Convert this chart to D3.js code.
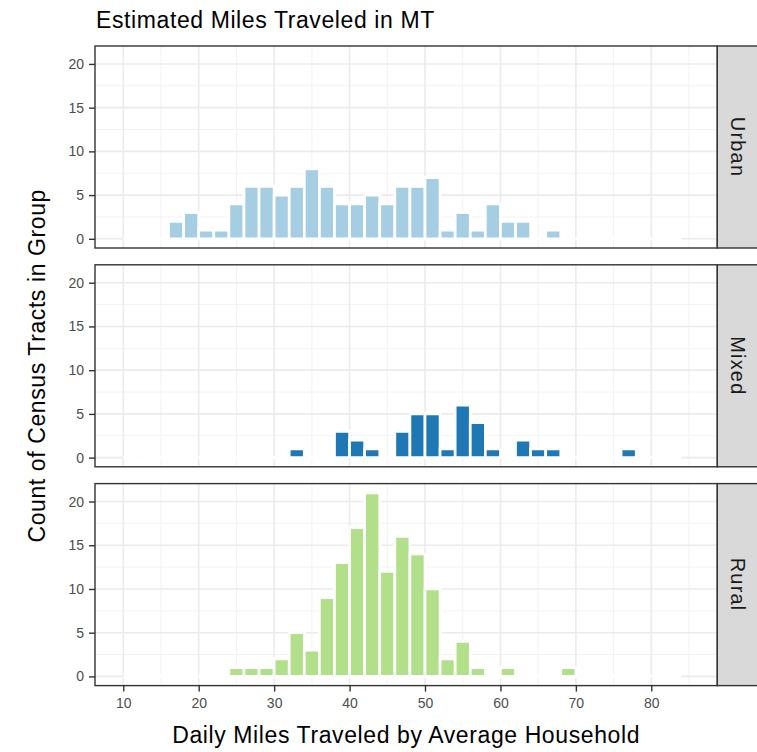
<!DOCTYPE html>
<html>
<head>
<meta charset="utf-8">
<script src="https://cdn.jsdelivr.net/npm/d3@7"></script>
<style>
  body { margin: 0; background: #ffffff; }
  svg { display: block; }
  text { font-family: "Liberation Sans", Arial, Helvetica, sans-serif; }
</style>
</head>
<body>
<svg id="chart" width="757" height="752"></svg>
<script>
// Histogram bins: centre of each 2-mile bin
const binCenters = [11, 13, 15, 17, 19, 21, 23, 25, 27, 29, 31, 33, 35, 37, 39, 41, 43, 45, 47,
                    49, 51, 53, 55, 57, 59, 61, 63, 65, 67, 69, 71, 73, 75, 77, 79, 81, 83];
const binWidth = 2;

// Count of census tracts per bin, by group
const urbanCounts = [0, 0, 0, 2, 3, 1, 1, 4, 6, 6, 5, 6, 8, 6, 4, 4, 5, 4, 6,
                     6, 7, 1, 3, 1, 4, 2, 2, 0, 1, 0, 0, 0, 0, 0, 0, 0, 0];
const mixedCounts = [0, 0, 0, 0, 0, 0, 0, 0, 0, 0, 0, 1, 0, 0, 3, 2, 1, 0, 3,
                     5, 5, 1, 6, 4, 1, 0, 2, 1, 1, 0, 0, 0, 0, 1, 0, 0, 0];
const ruralCounts = [0, 0, 0, 0, 0, 0, 0, 1, 1, 1, 2, 5, 3, 9, 13, 17, 21, 12, 16,
                     14, 10, 2, 4, 1, 0, 1, 0, 0, 0, 1, 0, 0, 0, 0, 0, 0, 0];

const groupNames = ["Urban", "Mixed", "Rural"];
const groupCounts = [urbanCounts, mixedCounts, ruralCounts];
const groupColors = ["#a6cee3", "#1f78b4", "#b2df8a"];

const xTicks = [10, 20, 30, 40, 50, 60, 70, 80];
const xMinor = [15, 25, 35, 45, 55, 65, 75, 85];
const yTicks = [0, 5, 10, 15, 20];
const yMinor = [2.5, 7.5, 12.5, 17.5];

const titleText = "Estimated Miles Traveled in MT";
const xTitle = "Daily Miles Traveled by Average Household";
const yTitle = "Count of Census Tracts in Group";

// ---- layout ----
const svg = d3.select("#chart");
const panelLeft = 95, panelRight = 717.3;
const panelTop = 46, panelH = 202, panelGap = 16.8;
const stripW = 40.5;

// continuous scales with 5% expansion, as in ggplot
function expand(lo, hi, f = 0.05) { const d = (hi - lo) * f; return [lo - d, hi + d]; }
const x = d3.scaleLinear().domain(expand(10, 85)).range([panelLeft, panelRight]);
const countMax = d3.max(groupCounts.flat());

const gridMajor = "#ebebeb", gridMinor = "#f2f2f2", dark = "#333333", tickText = "#4d4d4d";

groupNames.forEach((name, i) => {
  const top = panelTop + i * (panelH + panelGap);
  const bottom = top + panelH;
  const y = d3.scaleLinear().domain(expand(0, countMax)).range([bottom, top]);
  const g = svg.append("g");

  g.append("rect").attr("x", panelLeft).attr("y", top)
    .attr("width", panelRight - panelLeft).attr("height", panelH).attr("fill", "#fff");

  // minor grid
  g.selectAll(".vminor").data(xMinor.filter(v => x(v) < panelRight)).join("line")
    .attr("x1", d => x(d)).attr("x2", d => x(d)).attr("y1", top).attr("y2", bottom)
    .attr("stroke", gridMinor).attr("stroke-width", 1);
  g.selectAll(".hminor").data(yMinor).join("line")
    .attr("x1", panelLeft).attr("x2", panelRight).attr("y1", d => y(d)).attr("y2", d => y(d))
    .attr("stroke", gridMinor).attr("stroke-width", 1);
  // major grid
  g.selectAll(".vmajor").data(xTicks).join("line")
    .attr("x1", d => x(d)).attr("x2", d => x(d)).attr("y1", top).attr("y2", bottom)
    .attr("stroke", gridMajor).attr("stroke-width", 1.6);
  g.selectAll(".hmajor").data(yTicks).join("line")
    .attr("x1", panelLeft).attr("x2", panelRight).attr("y1", d => y(d)).attr("y2", d => y(d))
    .attr("stroke", gridMajor).attr("stroke-width", 1.6);

  // histogram bars (white outlines, zero-count bins included)
  const bins = binCenters.map((c, k) => ({ c, n: groupCounts[i][k] }));
  g.selectAll(".bar").data(bins).join("path")
    .attr("d", d => {
      const x0 = x(d.c - binWidth / 2), x1 = x(d.c + binWidth / 2);
      const y0 = y(0), y1 = y(d.n);
      return `M${x0},${y0}H${x1}V${y1}H${x0}Z`;
    })
    .attr("fill", groupColors[i]).attr("stroke", "#ffffff").attr("stroke-width", 2.7);

  // panel border
  g.append("rect").attr("x", panelLeft).attr("y", top)
    .attr("width", panelRight - panelLeft).attr("height", panelH)
    .attr("fill", "none").attr("stroke", dark).attr("stroke-width", 1.4);

  // strip on the right
  g.append("rect").attr("x", panelRight).attr("y", top)
    .attr("width", stripW).attr("height", panelH)
    .attr("fill", "#d9d9d9").attr("stroke", dark).attr("stroke-width", 1.4);
  g.append("text")
    .attr("transform", `translate(${panelRight + stripW / 2},${(top + bottom) / 2}) rotate(90)`)
    .attr("text-anchor", "middle").attr("dy", "0.35em")
    .attr("font-size", 20).attr("letter-spacing", 1.2).attr("fill", "#1a1a1a").text(name);

  // y axis
  const yAxis = g.append("g").attr("transform", `translate(${panelLeft},0)`)
    .call(d3.axisLeft(y).tickValues(yTicks).tickSize(6).tickPadding(5));
  yAxis.select(".domain").remove();
  yAxis.selectAll(".tick line").attr("stroke", dark).attr("stroke-width", 1.4);
  yAxis.selectAll(".tick text").attr("fill", tickText).attr("font-size", 14)
    .attr("font-family", "Liberation Sans, Arial, sans-serif");

  if (i === groupNames.length - 1) {
    const xAxis = g.append("g").attr("transform", `translate(0,${bottom})`)
      .call(d3.axisBottom(x).tickValues(xTicks).tickSize(6).tickPadding(6));
    xAxis.select(".domain").remove();
    xAxis.selectAll(".tick line").attr("stroke", dark).attr("stroke-width", 1.4);
    xAxis.selectAll(".tick text").attr("fill", tickText).attr("font-size", 14)
      .attr("font-family", "Liberation Sans, Arial, sans-serif");
  }
});

// titles
svg.append("text").attr("x", 96).attr("y", 28)
  .attr("font-size", 23).attr("letter-spacing", 0.6).attr("fill", "#000").text(titleText);

svg.append("text").attr("x", (panelLeft + panelRight) / 2).attr("y", 743)
  .attr("text-anchor", "middle").attr("font-size", 23).attr("letter-spacing", 0.6)
  .attr("fill", "#000").text(xTitle);

const plotMid = panelTop + (3 * panelH + 2 * panelGap) / 2;
svg.append("text").attr("transform", `translate(45,${plotMid}) rotate(-90)`)
  .attr("text-anchor", "middle").attr("font-size", 23).attr("letter-spacing", 0.6)
  .attr("fill", "#000").text(yTitle);
</script>
</body>
</html>
